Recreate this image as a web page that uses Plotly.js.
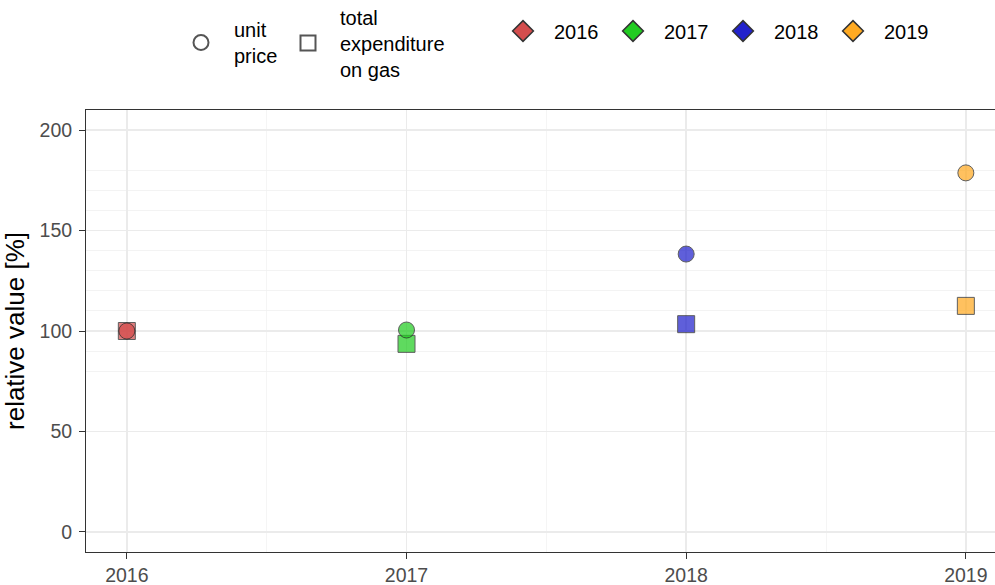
<!DOCTYPE html>
<html>
<head>
<meta charset="utf-8">
<script src="https://cdn.plot.ly/plotly-3.0.1.min.js"></script>
<style>
html, body { margin: 0; padding: 0; overflow: hidden; background: #fff; }
#chart { width: 1005px; height: 585px; }
</style>
</head>
<body>
<div id="chart"></div>
<script>
// ---- data ----
const years = [2016, 2017, 2018, 2019];
const yearLabels = ['2016', '2017', '2018', '2019'];
const unitPrice = [100, 100.5, 138.3, 178.7];
const expenditure = [100, 93.6, 103.4, 112.5];
const yearColors = ['#d44d4d', '#22cc22', '#2222cc', '#ffaa22'];
const measureNames = ['unit<br>price', 'total<br>expenditure<br>on gas'];
const yTicks = [0, 50, 100, 150, 200];
const yMinor = [80, 90, 110, 120, 130, 140, 160, 170, 180];

const FONT = 'Liberation Sans, Arial, sans-serif';
const traces = [];

// expenditure squares (drawn first)
traces.push({
  x: years, y: expenditure, type: 'scatter', mode: 'markers',
  showlegend: false, hoverinfo: 'x+y',
  marker: { symbol: 'square', size: 17, color: yearColors, opacity: 0.72,
            line: { color: '#222222', width: 1 } }
});
// unit price circles
traces.push({
  x: years, y: unitPrice, type: 'scatter', mode: 'markers',
  showlegend: false, hoverinfo: 'x+y',
  marker: { symbol: 'circle', size: 16, color: yearColors, opacity: 0.72,
            line: { color: '#222222', width: 1 } }
});
// shape legend (each in its own legend box so they are vertically centred independently)
['circle-open', 'square-open'].forEach((sym, i) => {
  traces.push({
    x: [null], y: [null], type: 'scatter', mode: 'markers',
    name: measureNames[i], legend: i === 0 ? 'legend' : 'legend3',
    marker: { symbol: sym, size: 15, color: '#555555', line: { width: 2, color: '#555555' } }
  });
});
// year legend
years.forEach((yr, i) => {
  traces.push({
    x: [null], y: [null], type: 'scatter', mode: 'markers',
    name: yearLabels[i], legend: 'legend2',
    legendwidth: i < years.length - 1 ? 43 : 60,
    marker: { symbol: 'diamond', size: 16, color: yearColors[i], line: { width: 1.5, color: '#333333' } }
  });
});

const legendBase = {
  orientation: 'h', xref: 'container', yref: 'container',
  xanchor: 'left', yanchor: 'middle',
  font: { size: 20, family: FONT, color: '#000000' },
  bgcolor: 'rgba(0,0,0,0)', valign: 'middle'
};

const layout = {
  width: 1005, height: 585,
  margin: { l: 86, r: 0, t: 110, b: 33 },
  paper_bgcolor: '#ffffff', plot_bgcolor: '#ffffff',
  font: { family: FONT, color: '#000000' },
  showlegend: true,
  xaxis: {
    range: [2015.854, 2019.14],
    tickmode: 'array', tickvals: years, ticktext: yearLabels,
    tickfont: { size: 19.5, color: '#4d4d4d', family: FONT },
    ticks: 'outside', ticklen: 6, tickcolor: '#333333', tickwidth: 1,
    showgrid: true, gridcolor: '#ebebeb', gridwidth: 1.4,
    minor: { tickmode: 'array', tickvals: [2016.5, 2017.5, 2018.5], showgrid: true, gridcolor: '#f2f2f2', gridwidth: 0.8, ticks: '' },
    showline: true, linecolor: '#333333', linewidth: 1, mirror: true,
    zeroline: false
  },
  yaxis: {
    range: [-10, 210],
    tickmode: 'array', tickvals: yTicks, ticktext: yTicks.map(String),
    tickfont: { size: 19.5, color: '#4d4d4d', family: FONT },
    ticks: 'outside', ticklen: 6, tickcolor: '#333333', tickwidth: 1,
    ticklabelstandoff: 3,
    showgrid: true, gridcolor: '#ebebeb', gridwidth: 1.4,
    minor: { tickmode: 'array', tickvals: yMinor, showgrid: true, gridcolor: '#f0f0f0', gridwidth: 0.8, ticks: '' },
    showline: true, linecolor: '#333333', linewidth: 1, mirror: true,
    zeroline: false,
    title: { text: 'relative value [%]', font: { size: 26, color: '#000000', family: FONT }, standoff: 8 }
  },
  legend: Object.assign({}, legendBase, { x: 168 / 1005, y: 1 - 42.5 / 585, itemwidth: 56 }),
  legend3: Object.assign({}, legendBase, { x: 276 / 1005, y: 1 - 43 / 585, itemwidth: 54 }),
  legend2: Object.assign({}, legendBase, { x: 492 / 1005, y: 1 - 31 / 585, itemwidth: 52, entrywidthmode: 'pixels' })
};

Plotly.newPlot('chart', traces, layout, { displayModeBar: false, staticPlot: true });
</script>
</body>
</html>
